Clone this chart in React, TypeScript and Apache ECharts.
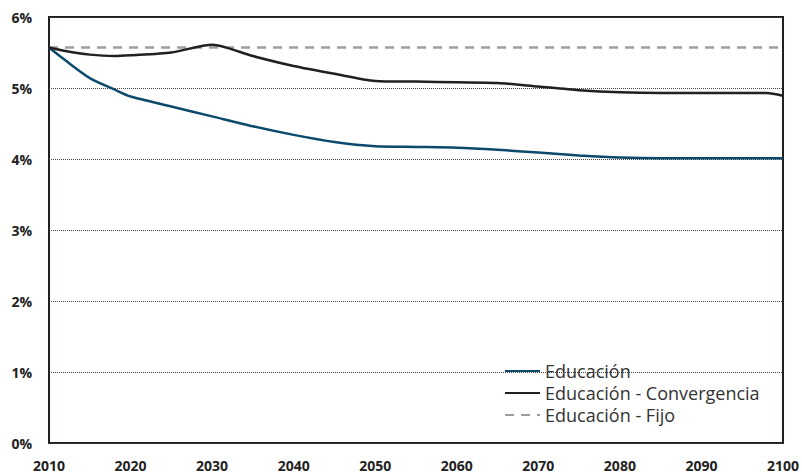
import React, { useEffect, useRef } from "react";
import * as echarts from "echarts";

const years = [2010, 2012, 2015, 2018, 2020, 2025, 2030, 2035, 2040, 2045, 2050, 2055, 2060, 2065, 2070, 2075, 2080, 2085, 2090, 2095, 2098, 2100];
const educacion = [5.57, 5.39, 5.14, 4.98, 4.88, 4.74, 4.6, 4.46, 4.34, 4.24, 4.18, 4.17, 4.16, 4.13, 4.09, 4.05, 4.02, 4.01, 4.01, 4.01, 4.01, 4.01];
const convergencia = [5.57, 5.52, 5.47, 5.45, 5.46, 5.5, 5.61, 5.45, 5.31, 5.2, 5.1, 5.09, 5.08, 5.07, 5.02, 4.97, 4.94, 4.93, 4.93, 4.93, 4.93, 4.89];
const fijo = [5.57, 5.57, 5.57, 5.57, 5.57, 5.57, 5.57, 5.57, 5.57, 5.57, 5.57, 5.57, 5.57, 5.57, 5.57, 5.57, 5.57, 5.57, 5.57, 5.57, 5.57, 5.57];
const seriesNames = ["Educación", "Educación - Convergencia", "Educación - Fijo"];

const pairs = (vals: number[]) => years.map((y, i) => [y, vals[i]]);

export default function App() {
  const ref = useRef<HTMLDivElement>(null);
  useEffect(() => {
    document.body.style.margin = "0";
    const chart = echarts.init(ref.current!, null, { renderer: "svg" });
    const font = "'Open Sans', sans-serif";
    chart.setOption({
      animation: false,
      backgroundColor: "#fff",
      grid: {
        left: 49,
        right: 18,
        top: 17,
        bottom: 32,
        show: true,
        borderColor: "#231f20",
        borderWidth: 2,
      },
      legend: {
        orient: "vertical",
        left: 504,
        top: 362,
        itemWidth: 35,
        itemHeight: 18,
        itemGap: 4,
        padding: 0,
        itemStyle: { opacity: 0 },
        textStyle: { fontFamily: font, fontSize: 18, color: "#333" },
        data: seriesNames,
      },
      xAxis: {
        type: "value",
        min: 2010,
        max: 2100,
        interval: 10,
        axisLine: { show: false },
        axisTick: { show: false },
        splitLine: { show: false },
        axisLabel: { fontFamily: font, fontSize: 14, fontWeight: "bold", color: "#222", margin: 15, formatter: (v: number) => String(v) },
      },
      yAxis: {
        type: "value",
        min: 0,
        max: 6,
        interval: 1,
        axisLine: { show: false },
        axisTick: { show: false },
        splitLine: { show: true, lineStyle: { type: "dotted", color: "#444", width: 1 } },
        axisLabel: { fontFamily: font, fontSize: 14, fontWeight: "bold", color: "#222", margin: 17, formatter: "{value}%" },
      },
      series: [
        {
          name: seriesNames[0],
          type: "line",
          data: pairs(educacion),
          smooth: 0.25,
          symbol: "none",
          lineStyle: { color: "#0b4a6c", width: 2.5 },
          itemStyle: { color: "#0b4a6c" },
          z: 3,
        },
        {
          name: seriesNames[1],
          type: "line",
          data: pairs(convergencia),
          smooth: 0.25,
          symbol: "none",
          lineStyle: { color: "#231f20", width: 2.5 },
          itemStyle: { color: "#231f20" },
          z: 3,
        },
        {
          name: seriesNames[2],
          type: "line",
          data: pairs(fijo),
          symbol: "none",
          lineStyle: { color: "#9d9d9f", width: 2.5, type: [9, 7] },
          itemStyle: { color: "#9d9d9f" },
          z: 2,
        },
      ],
    });
    return () => chart.dispose();
  }, []);
  return <div ref={ref} style={{ width: 802, height: 475 }} />;
}
